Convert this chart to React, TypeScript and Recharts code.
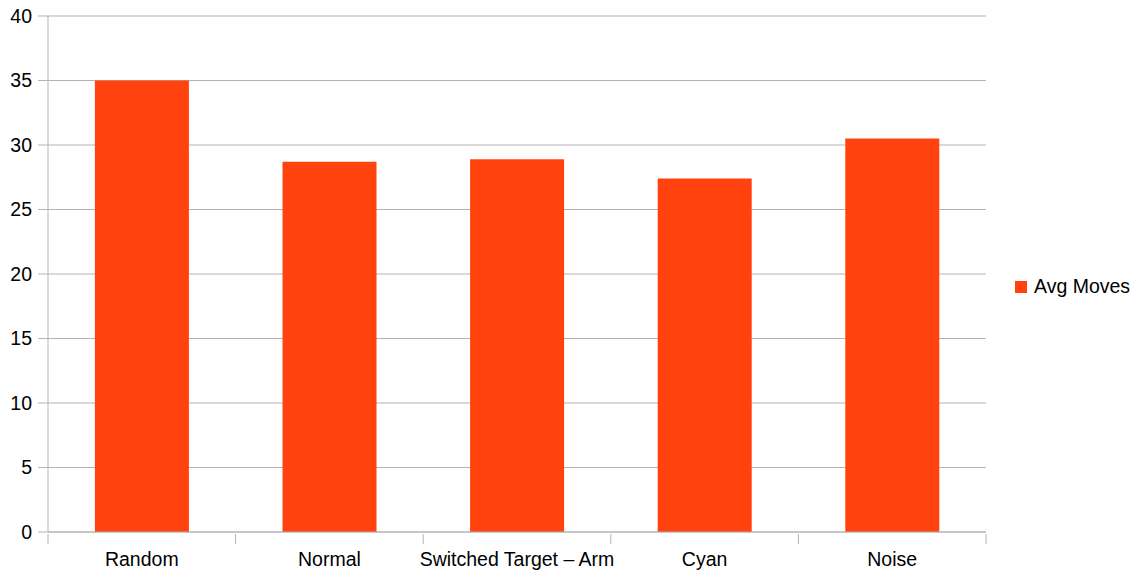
import { BarChart, Bar, XAxis, YAxis, CartesianGrid } from "recharts";

const categories = ["Random", "Normal", "Switched Target – Arm", "Cyan", "Noise"];
const avgMoves = [35, 28.7, 28.9, 27.4, 30.5];
const yTicks = [0, 5, 10, 15, 20, 25, 30, 35, 40];
const seriesName = "Avg Moves";

const data = categories.map((name, i) => ({ name, avg: avgMoves[i] }));

const AXIS = "#b3b3b3";
const BAR = "#ff420e";
const FONT = "'Liberation Sans', Arial, sans-serif";
const FS = 19.5;

// plot is 938px wide over 5 categories -> boundary ticks half a band off center
const BAND = 938 / categories.length;

const CategoryTick = (props: any) => {
  const { x, y, payload, index } = props;
  const left = x - BAND / 2;
  return (
    <g>
      <line x1={left} y1={y - 10} x2={left} y2={y} stroke={AXIS} />
      {index === categories.length - 1 && (
        <line x1={x + BAND / 2} y1={y - 10} x2={x + BAND / 2} y2={y} stroke={AXIS} />
      )}
      <text x={x} y={y + 22} textAnchor="middle" fill="#000" fontSize={FS} fontFamily={FONT}>
        {payload.value}
      </text>
    </g>
  );
};

export default function App() {
  return (
    <div style={{ position: "absolute", left: 0, top: 0, background: "#fff", width: 1137, height: 572 }}>
      <BarChart
        width={1137}
        height={572}
        data={data}
        barCategoryGap="25%"
        margin={{ top: 16, right: 151, left: 0, bottom: 10 }}
      >
        <CartesianGrid vertical={false} stroke={AXIS} />
        <XAxis
          dataKey="name"
          height={30}
          axisLine={{ stroke: AXIS }}
          tickLine={false}
          tickSize={10}
          tick={<CategoryTick />}
          interval={0}
        />
        <YAxis
          domain={[0, 40]}
          ticks={yTicks}
          width={48}
          axisLine={{ stroke: AXIS }}
          tickLine={{ stroke: AXIS }}
          tickSize={10}
          tickMargin={6}
          tick={{ fill: "#000", fontSize: FS, fontFamily: FONT }}
        />
        <Bar dataKey="avg" name={seriesName} fill={BAR} isAnimationActive={false} />
      </BarChart>
      <div
        style={{
          position: "absolute",
          left: 1015,
          top: 275,
          display: "flex",
          alignItems: "center",
          fontFamily: FONT,
          fontSize: FS,
          color: "#000",
          whiteSpace: "nowrap",
        }}
      >
        <span style={{ width: 12, height: 12, background: BAR, marginRight: 7, display: "inline-block" }} />
        {seriesName}
      </div>
    </div>
  );
}
